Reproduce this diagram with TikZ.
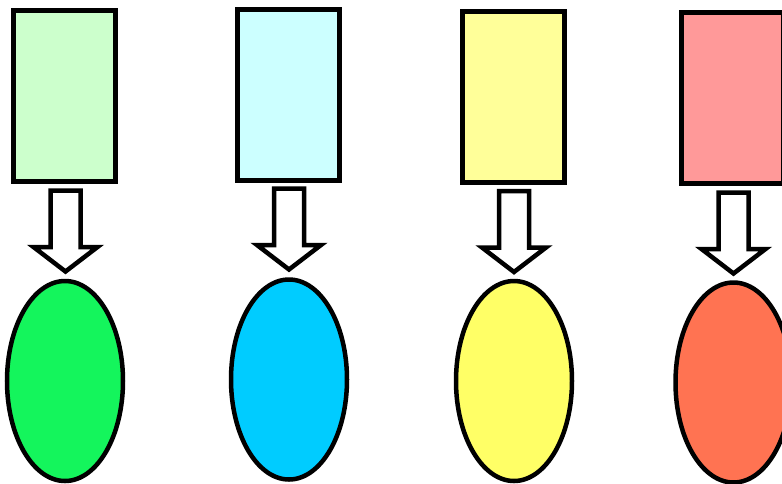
\documentclass[tikz,border=0pt]{standalone}
\usetikzlibrary{shapes.geometric}
\definecolor{boxgreen}{HTML}{CCFFCC}
\definecolor{boxcyan}{HTML}{CCFFFF}
\definecolor{boxyellow}{HTML}{FFFF99}
\definecolor{boxred}{HTML}{FF9999}
\definecolor{ovalgreen}{HTML}{14F55C}
\definecolor{ovalblue}{HTML}{00CCFF}
\definecolor{ovalyellow}{HTML}{FFFF66}
\definecolor{ovalred}{HTML}{FF7352}
\tikzset{
  colbox/.style={draw, line width=5pt, minimum width=102pt, minimum height=171pt, inner sep=0pt},
  coloval/.style={draw, ellipse, line width=4.5pt, minimum width=116pt, minimum height=200pt, inner sep=0pt},
  hollowarrow/.style={draw, line width=4.5pt, fill=white, line join=miter}
}
\begin{document}
\begin{tikzpicture}[x=1pt, y=-1pt]
\useasboundingbox (0,0) rectangle (782,483);

% top boxes
\node[colbox, fill=boxgreen] (box1) at (64.5, 96.25) {};
\node[colbox, fill=boxcyan] (box2) at (288, 94.5) {};
\node[colbox, fill=boxyellow] (box3) at (513, 96.5) {};
\node[colbox, fill=boxred] (box4) at (732, 97.75) {};

% bottom ovals
\node[coloval, fill=ovalgreen] (oval1) at (65, 381) {};
\node[coloval, fill=ovalblue] (oval2) at (289, 379.5) {};
\node[coloval, fill=ovalyellow] (oval3) at (514, 381) {};
\node[coloval, fill=ovalred] (oval4) at (733.5, 382.5) {};

% hollow arrows from box to oval
\coordinate (arr1) at (65.5, 190.5);
\coordinate (arr2) at (289, 188.5);
\coordinate (arr3) at (514, 191);
\coordinate (arr4) at (733.5, 192.5);
\draw[hollowarrow] (arr1) ++(-15,0) -- ++(30,0) -- ++(0,56.5) -- ++(17,0) -- ++(-32,24.5) -- ++(-32,-24.5) -- ++(17,0) -- cycle;
\draw[hollowarrow] (arr2) ++(-15,0) -- ++(30,0) -- ++(0,56.5) -- ++(17,0) -- ++(-32,24.5) -- ++(-32,-24.5) -- ++(17,0) -- cycle;
\draw[hollowarrow] (arr3) ++(-15,0) -- ++(30,0) -- ++(0,56.5) -- ++(17,0) -- ++(-32,24.5) -- ++(-32,-24.5) -- ++(17,0) -- cycle;
\draw[hollowarrow] (arr4) ++(-15,0) -- ++(30,0) -- ++(0,56.5) -- ++(17,0) -- ++(-32,24.5) -- ++(-32,-24.5) -- ++(17,0) -- cycle;
\end{tikzpicture}
\end{document}
